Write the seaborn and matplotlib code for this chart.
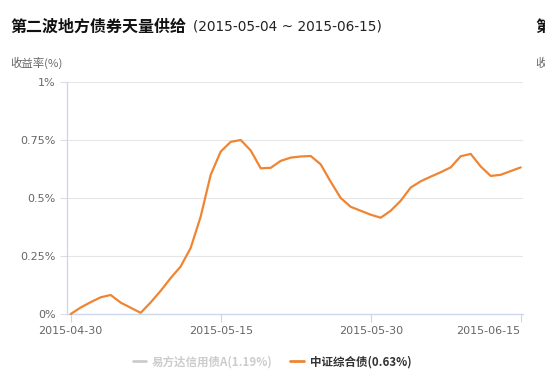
import numpy as np
import pandas as pd
import matplotlib.pyplot as plt
from matplotlib.lines import Line2D
import seaborn as sns

# daily points of 中证综合债 (yield in %)
dates = ['2015-04-30', '2015-05-01', '2015-05-02', '2015-05-03', '2015-05-04',
         '2015-05-05', '2015-05-06', '2015-05-07', '2015-05-08', '2015-05-09',
         '2015-05-10', '2015-05-11', '2015-05-12', '2015-05-13', '2015-05-14',
         '2015-05-15', '2015-05-16', '2015-05-17', '2015-05-18', '2015-05-19',
         '2015-05-20', '2015-05-21', '2015-05-22', '2015-05-23', '2015-05-24',
         '2015-05-25', '2015-05-26', '2015-05-27', '2015-05-28', '2015-05-29',
         '2015-05-30', '2015-05-31', '2015-06-01', '2015-06-02', '2015-06-03',
         '2015-06-04', '2015-06-05', '2015-06-06', '2015-06-08', '2015-06-09',
         '2015-06-10', '2015-06-11', '2015-06-12', '2015-06-13', '2015-06-14',
         '2015-06-15']
values = [0.000, 0.028, 0.051, 0.072, 0.082, 0.049, 0.027, 0.005, 0.050, 0.100,
          0.155, 0.205, 0.285, 0.420, 0.600, 0.700, 0.742, 0.750, 0.705, 0.628,
          0.630, 0.660, 0.674, 0.679, 0.681, 0.645, 0.570, 0.500, 0.462, 0.445,
          0.428, 0.415, 0.445, 0.488, 0.545, 0.572, 0.592, 0.611, 0.632, 0.680,
          0.690, 0.636, 0.595, 0.600, 0.616, 0.632]

ytick_vals = [0, 0.25, 0.5, 0.75, 1.0]
ytick_labels = ['0%', '0.25%', '0.5%', '0.75%', '1%']
xtick_dates = ['2015-04-30', '2015-05-15', '2015-05-30', '2015-06-15']
legend_labels = ['易方达信用债A(1.19%)', '中证综合债(0.63%)']
legend_colors = ['#cccccc', '#ef8533']

sns.set_theme(style='white')
plt.rcParams['font.family'] = ['Noto Sans CJK SC', 'DejaVu Sans']

W, H = 545, 386
fig = plt.figure(figsize=(W / 100, H / 100), dpi=100)
ax = fig.add_axes([67 / W, 1 - 314 / H, (523 - 67) / W, (314 - 82) / H])

df = pd.DataFrame({'idx': np.arange(len(dates)), 'value': values})
sns.lineplot(data=df, x='idx', y='value', ax=ax, color=legend_colors[1],
             lw=1.6, clip_on=False, zorder=3)

ax.set_xlim(-0.37, 45.23)
ax.set_ylim(0, 1)
ax.set_xlabel('')
ax.set_ylabel('')

# axis styling
for s in ['top', 'right']:
    ax.spines[s].set_visible(False)
for s in ['left', 'bottom']:
    ax.spines[s].set_color('#ccd6eb')
    ax.spines[s].set_linewidth(0.9)

ax.set_yticks(ytick_vals)
ax.set_yticklabels(ytick_labels)
ax.yaxis.grid(True, color='#e6e6e6', lw=0.8)
ax.set_axisbelow(True)

xt = [dates.index(d) for d in xtick_dates]
ax.set_xticks(xt)
ax.set_xticklabels(xtick_dates)
ax.tick_params(axis='x', direction='out', length=6, width=0.8, color='#ccd6eb',
               labelsize=8, labelcolor='#666666', pad=3, bottom=True)
ax.tick_params(axis='y', direction='out', length=5, width=0.8, color='#dcdce8',
               labelsize=8, labelcolor='#666666', pad=3, left=True)
for lab in ax.get_yticklabels() + ax.get_xticklabels():
    lab.set_family('DejaVu Sans')
ax.get_xticklabels()[-1].set_horizontalalignment('right')
ax.get_xticklabels()[-1].set_x(xt[-1] + 0.3)

# title: bold name then the date range
t1 = fig.text(10 / W, 1 - 27 / H, '第二波地方债券天量供给', fontsize=11.5,
              fontweight='bold', color='#111111', va='center', ha='left')
fig.canvas.draw()
bb = t1.get_window_extent(renderer=fig.canvas.get_renderer())
fig.text((bb.x1 + 7) / W, 1 - 27 / H, '(2015-05-04 ~ 2015-06-15)', fontsize=9.8,
         color='#222222', va='center', ha='left', family='DejaVu Sans')
fig.text(535 / W, 1 - 27 / H, '第', fontsize=11.5, fontweight='bold',
         color='#111111', va='center', ha='left')

fig.text(10 / W, 1 - 63 / H, '收益率(%)', fontsize=8.2, color='#666666',
         va='center', ha='left')
fig.text(535 / W, 1 - 63 / H, '收', fontsize=8.2, color='#666666',
         va='center', ha='left')

# legend (first series hidden, greyed out)
handles = [Line2D([], [], color=c, lw=2) for c in legend_colors]
leg = fig.legend(handles, legend_labels, loc='center', ncol=2,
                 bbox_to_anchor=(272 / W, 1 - 362 / H), frameon=False,
                 prop={'size': 8.3, 'weight': 'bold'}, handlelength=1.2,
                 handletextpad=0.5, columnspacing=1.5)
leg.get_texts()[0].set_color('#cccccc')
leg.get_texts()[1].set_color('#333333')

fig.savefig('out.png', dpi=100, facecolor='white')
